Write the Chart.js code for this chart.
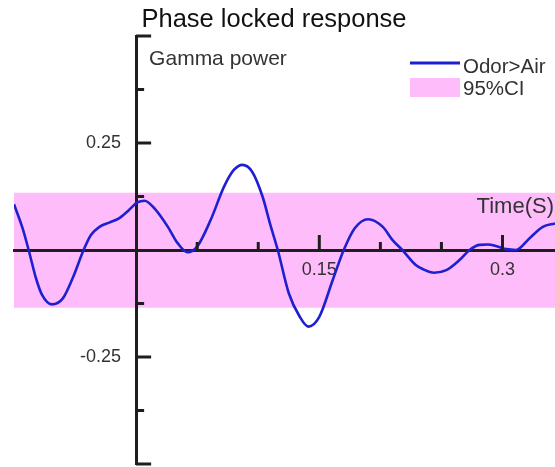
<!DOCTYPE html>
<html>
<head>
<meta charset="utf-8">
<script src="https://cdn.jsdelivr.net/npm/chart.js@4/dist/chart.umd.min.js"></script>
<style>
  html, body { margin: 0; padding: 0; background: #fff; overflow: hidden; }
  #wrap { width: 555px; height: 467px; }
</style>
</head>
<body>
<div id="wrap"><canvas id="c" width="555" height="467"></canvas></div>
<script>
// ---- data ----
const titleText = 'Phase locked response';
const yAxisTitle = 'Gamma power';
const xAxisTitle = 'Time(S)';
const seriesName = 'Odor>Air';
const bandName = '95%CI';

const time = [-0.100, -0.093, -0.088, -0.082, -0.077, -0.069, -0.060, -0.052, -0.043, -0.037,
  -0.030, -0.022, -0.014, -0.006, 0.001, 0.007, 0.015, 0.026, 0.034, 0.042,
  0.050, 0.061, 0.072, 0.080, 0.087, 0.095, 0.1035, 0.110, 0.116, 0.125,
  0.134, 0.141, 0.150, 0.161, 0.170, 0.179, 0.190, 0.202, 0.210, 0.218,
  0.229, 0.235, 0.244, 0.254, 0.265, 0.273, 0.281, 0.288, 0.296, 0.303,
  0.311, 0.322, 0.333, 0.343];
const gamma = [0.107, 0.051, 0.000, -0.066, -0.105, -0.127, -0.113, -0.066, 0.000, 0.035,
  0.054, 0.064, 0.074, 0.093, 0.111, 0.115, 0.097, 0.054, 0.016, -0.005,
  0.008, 0.070, 0.148, 0.187, 0.199, 0.183, 0.125, 0.058, 0.000, -0.101,
  -0.156, -0.179, -0.156, -0.070, 0.000, 0.051, 0.072, 0.054, 0.023, 0.000,
  -0.035, -0.045, -0.053, -0.047, -0.023, 0.000, 0.012, 0.013, 0.008, 0.002,
  0.000, 0.027, 0.054, 0.062];

const bandTime = [-0.100, 0.343];
const ciUpper = [0.134, 0.134];
const ciLower = [-0.135, -0.135];

const xLabelTicks = [0.15, 0.3];
const yLabelTicks = [0.25, -0.25];

// ---- chart ----
const FONT = '"Liberation Sans", Arial, Helvetica, sans-serif';
const AXIS_COLOR = '#1e1e1e';
const TEXT_COLOR = '#333333';
const LINE_COLOR = '#1f1fd2';
const PINK = 'rgb(255,188,250)';

function near(v, list) { return list.some(t => Math.abs(v - t) < 1e-9); }
function fmt(v) { return String(Math.round(v * 1000) / 1000); }

const zip = (xs, ys) => xs.map((x, i) => ({ x: x, y: ys[i] }));

const tickMarks = {
  id: 'tickMarks',
  afterDraw(chart) {
    const ctx = chart.ctx;
    const xs = chart.scales.x, ys = chart.scales.y;
    const x0 = xs.getPixelForValue(0), y0 = ys.getPixelForValue(0);
    ctx.save();
    ctx.strokeStyle = AXIS_COLOR;
    ctx.lineWidth = 3;
    ctx.lineCap = 'butt';
    xs.ticks.forEach(t => {
      if (t.value <= 1e-9) return;
      const px = xs.getPixelForValue(t.value);
      const len = near(t.value, xLabelTicks) ? 15 : 8;
      ctx.beginPath(); ctx.moveTo(px, y0); ctx.lineTo(px, y0 - len); ctx.stroke();
    });
    ys.ticks.forEach(t => {
      if (Math.abs(t.value) < 1e-9) return;
      const py = ys.getPixelForValue(t.value);
      const major = near(t.value, yLabelTicks) || near(Math.abs(t.value), [0.5]);
      const len = major ? 15 : 8;
      ctx.beginPath(); ctx.moveTo(x0, py); ctx.lineTo(x0 + len, py); ctx.stroke();
    });
    // title
    ctx.fillStyle = '#111111';
    ctx.textBaseline = 'alphabetic';
    ctx.font = '25.5px ' + FONT;
    ctx.textAlign = 'center';
    ctx.fillText(titleText, 274, 27);
    // axis titles
    ctx.fillStyle = TEXT_COLOR;
    ctx.font = '21px ' + FONT;
    ctx.textAlign = 'left';
    ctx.fillText(yAxisTitle, x0 + 13, 65);
    ctx.font = '22px ' + FONT;
    ctx.textAlign = 'right';
    ctx.fillText(xAxisTitle, chart.chartArea.right - 1, y0 - 37);
    // legend
    const lx = 410;
    ctx.strokeStyle = LINE_COLOR;
    ctx.lineWidth = 3;
    ctx.beginPath(); ctx.moveTo(lx, 63); ctx.lineTo(lx + 50, 63); ctx.stroke();
    ctx.fillStyle = PINK;
    ctx.fillRect(lx, 78, 50, 19);
    ctx.fillStyle = TEXT_COLOR;
    ctx.font = '20.5px ' + FONT;
    ctx.textAlign = 'left';
    ctx.fillText(seriesName, lx + 53, 73);
    ctx.fillText(bandName, lx + 53, 95);
    ctx.restore();
  }
};

new Chart(document.getElementById('c'), {
  type: 'line',
  data: {
    datasets: [
      {
        label: bandName + ' upper',
        data: zip(bandTime, ciUpper),
        borderWidth: 0,
        pointRadius: 0,
        backgroundColor: PINK,
        fill: '+1'
      },
      {
        label: bandName + ' lower',
        data: zip(bandTime, ciLower),
        borderWidth: 0,
        pointRadius: 0,
        fill: false
      },
      {
        label: seriesName,
        data: zip(time, gamma),
        borderColor: LINE_COLOR,
        borderWidth: 2.6,
        pointRadius: 0,
        fill: false,
        cubicInterpolationMode: 'monotone'
      }
    ]
  },
  options: {
    responsive: false,
    animation: false,
    layout: { padding: { top: 36, left: 14, right: 0, bottom: 3 } },
    plugins: {
      legend: { display: false },
      tooltip: { enabled: false },
      filler: { drawTime: 'beforeDraw' },
      title: { display: false }
    },
    scales: {
      x: {
        type: 'linear',
        position: { y: 0 },
        min: -0.1,
        max: 0.343,
        grid: { display: false, drawTicks: false },
        border: { display: true, color: AXIS_COLOR, width: 3 },
        ticks: {
          stepSize: 0.05,
          includeBounds: false,
          autoSkip: false,
          maxRotation: 0,
          padding: 9,
          color: TEXT_COLOR,
          font: { family: FONT, size: 18 },
          callback: v => near(v, xLabelTicks) ? fmt(v) : ''
        },
        afterFit: s => { s.height = 0; }
      },
      y: {
        type: 'linear',
        position: { x: 0 },
        min: -0.5,
        max: 0.5,
        grid: { display: false, drawTicks: false },
        border: { display: true, color: AXIS_COLOR, width: 3 },
        ticks: {
          stepSize: 0.125,
          autoSkip: false,
          padding: 0,
          color: TEXT_COLOR,
          font: { family: FONT, size: 18, lineHeight: 0.2 },
          callback: v => near(v, yLabelTicks) ? fmt(v) + '   ' : ''
        }
      }
    }
  },
  plugins: [tickMarks]
});
</script>
</body>
</html>
